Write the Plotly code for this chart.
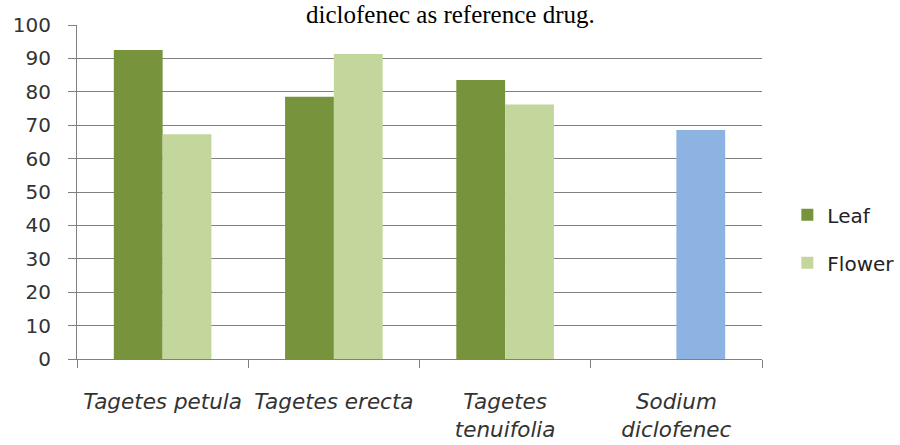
import plotly.graph_objects as go

categories = ["Tagetes petula", "Tagetes erecta", "Tagetes<br>tenuifolia", "Sodium<br>diclofenec"]
leaf_values = [92.5, 78.5, 83.5, None]
flower_values = [67.3, 91.3, 76.2, 68.6]
flower_colors = ["#C3D69B", "#C3D69B", "#C3D69B", "#8DB3E2"]
y_ticks = [0, 10, 20, 30, 40, 50, 60, 70, 80, 90, 100]
title_text = "diclofenec as reference drug."

fig = go.Figure()
fig.add_trace(go.Bar(name="Leaf", x=categories, y=leaf_values,
                     marker=dict(color="#77933C", line=dict(width=0)),
                     legendgroup="a"))
fig.add_trace(go.Bar(name="Flower", x=categories, y=flower_values,
                     marker=dict(color=flower_colors, line=dict(width=0)),
                     legendgroup="b"))

fig.update_layout(
    width=900, height=445,
    margin=dict(l=77, r=138, t=25, b=86, autoexpand=False),
    paper_bgcolor="white", plot_bgcolor="white",
    barmode="group", bargap=0.43, bargroupgap=0,
    showlegend=True,
    legend=dict(x=1.037, y=0.36, xanchor="left", yanchor="middle",
                font=dict(family="DejaVu Sans", size=20, color="#222"),
                tracegroupgap=19, bgcolor="rgba(0,0,0,0)"),
    annotations=[dict(text=title_text, xref="paper", yref="paper",
                      x=0.545, y=1, xanchor="center", yanchor="bottom",
                      yshift=-5, showarrow=False,
                      font=dict(family="Liberation Serif", size=25, color="black"))],
    font=dict(family="DejaVu Sans", color="#333"),
)
fig.update_xaxes(type="category", showline=True, linecolor="#808080", linewidth=1,
                 ticks="outside", tickson="boundaries", ticklen=8, tickcolor="#808080",
                 ticklabelstandoff=23, automargin=False,
                 tickfont=dict(family="DejaVu Sans", size=21.5, color="#333", style="italic"),
                 showgrid=False)
fig.update_yaxes(range=[0, 100], tickvals=y_ticks, showline=True, linecolor="#808080",
                 linewidth=1, ticks="outside", ticklen=8, tickcolor="#808080",
                 ticklabelstandoff=13, automargin=False,
                 showgrid=True, gridcolor="#808080", gridwidth=1,
                 tickfont=dict(family="DejaVu Sans", size=20, color="#333"),
                 zeroline=False)

fig.write_html("out.html")
